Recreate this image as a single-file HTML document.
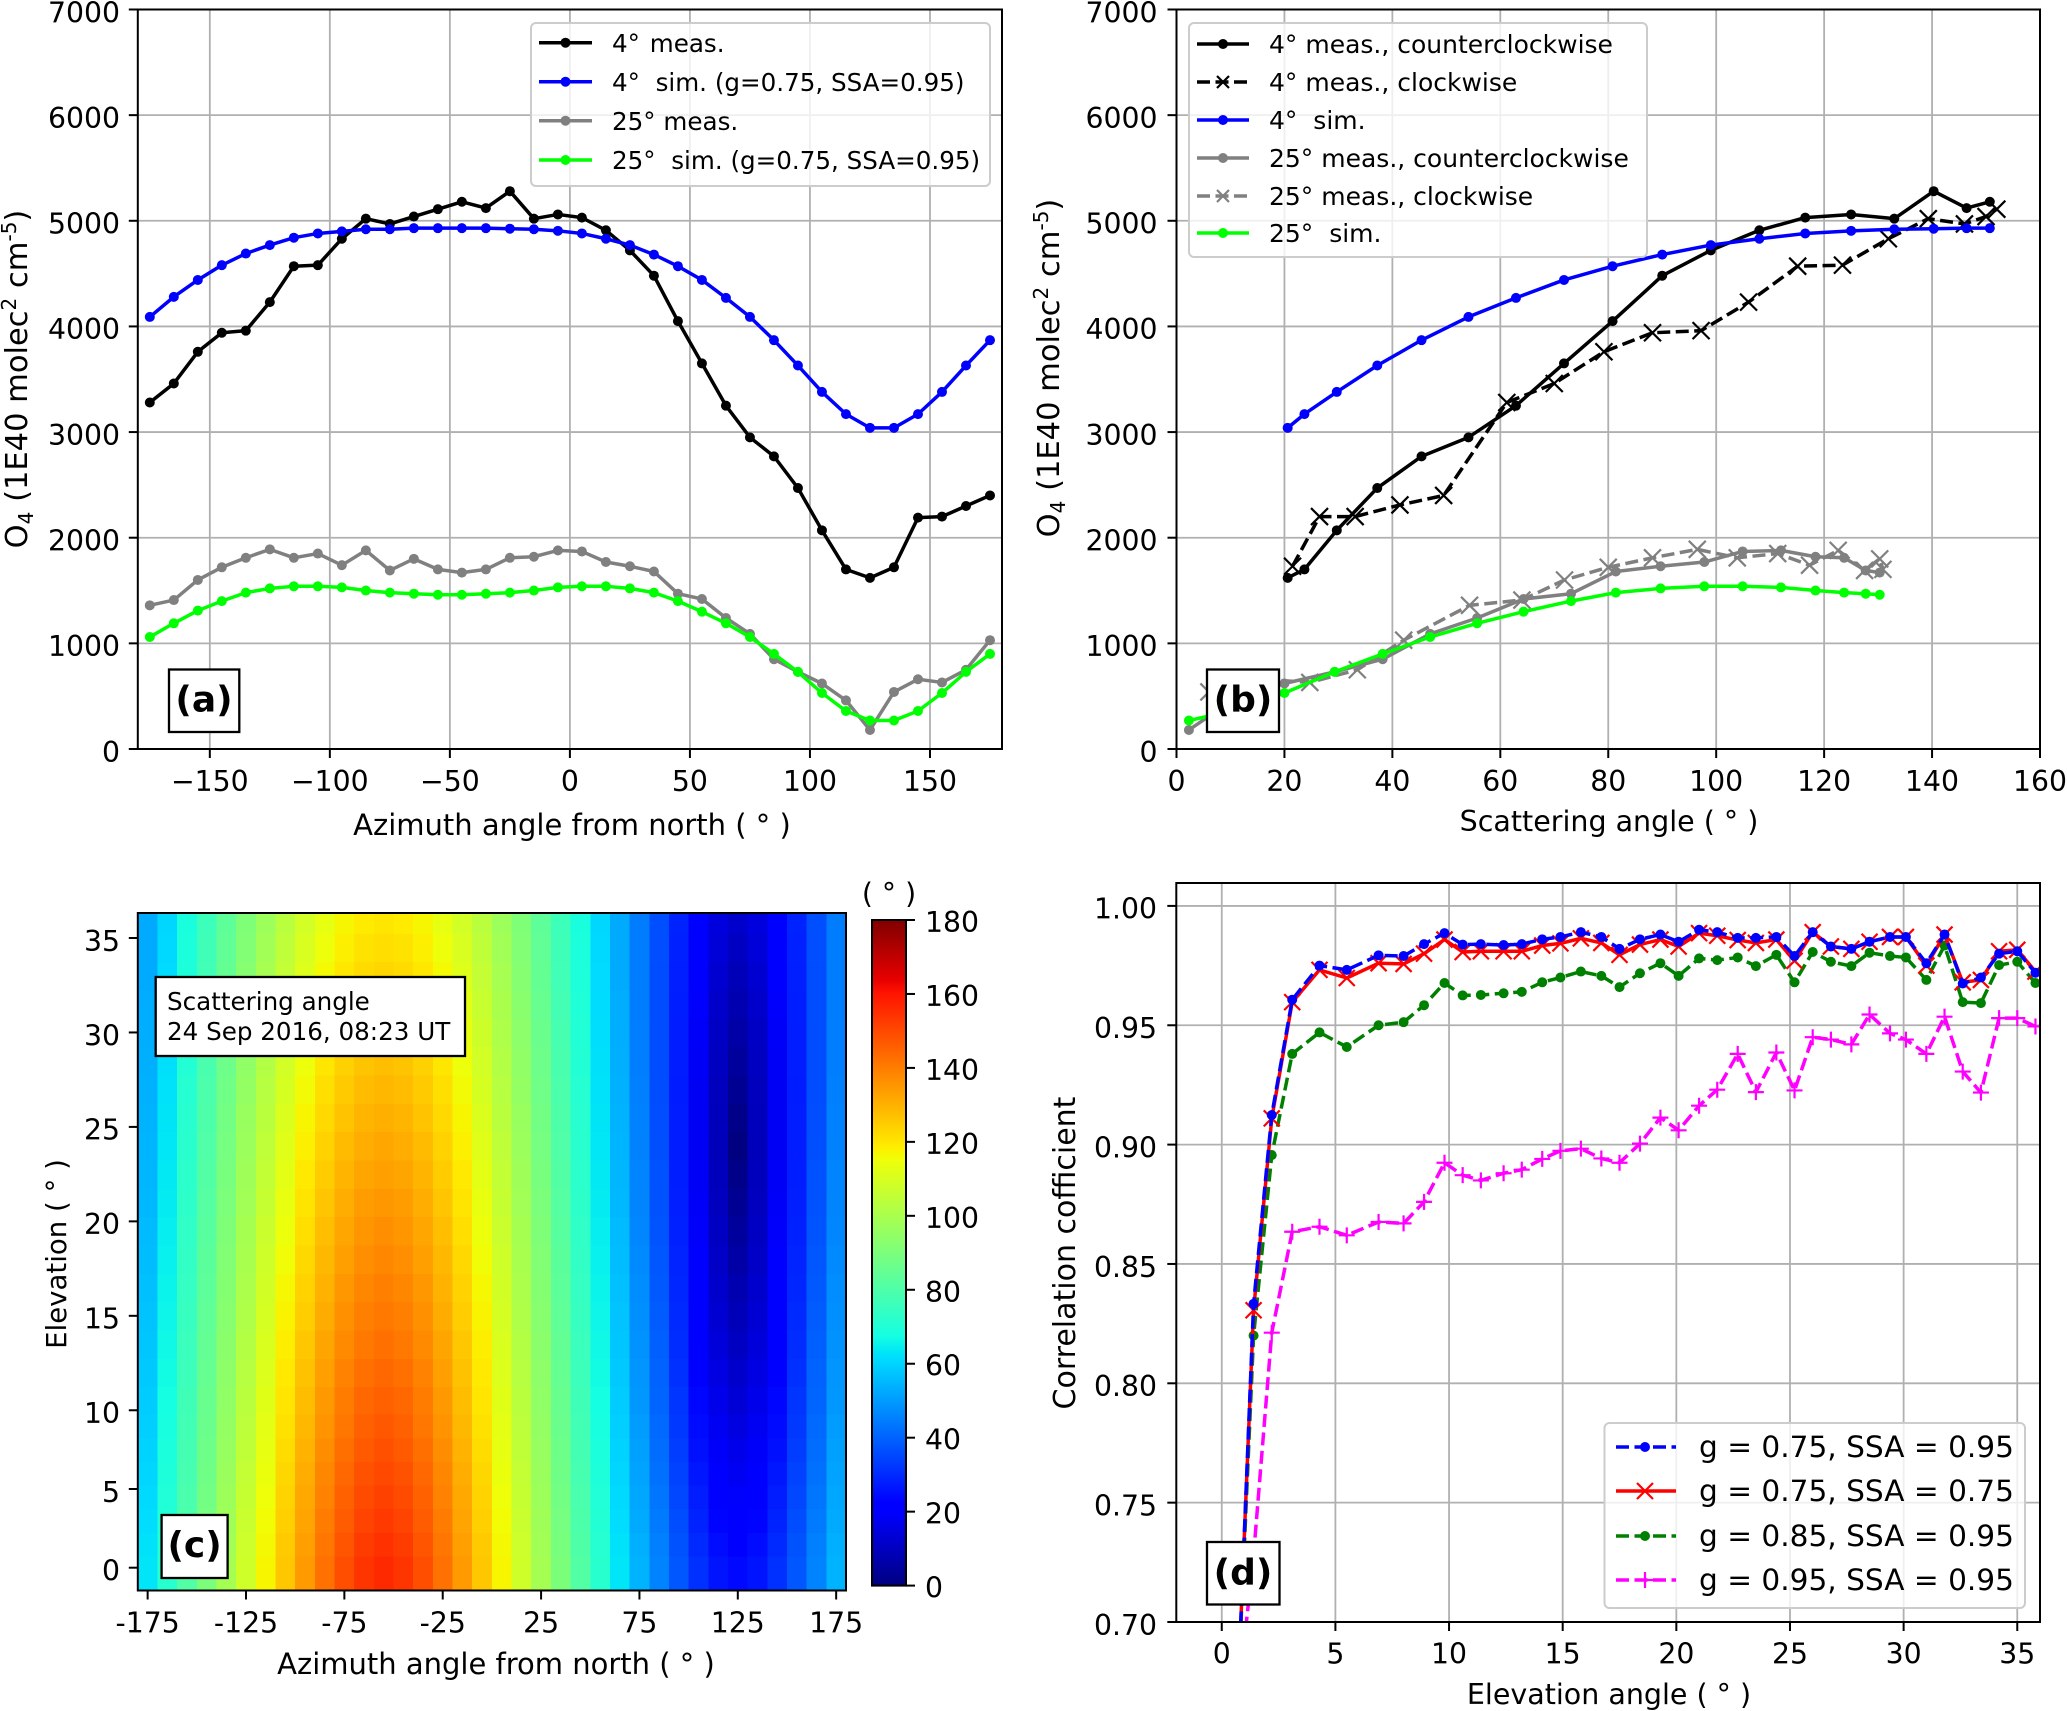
<!DOCTYPE html>
<html lang="en">
<head>
<meta charset="utf-8">
<title>O4 measurements and simulations</title>
<style>
html,body{margin:0;padding:0;background:#fff;overflow:hidden;}
svg{display:block;}
text{font-family:"DejaVu Sans","Liberation Sans",sans-serif;fill:#000;white-space:pre;}
.tick{font-size:28.3px;}
.axis{font-size:28.5px;}
.leg{font-size:24.6px;}
.legb{font-size:25px;}
.legd{font-size:29.6px;}
.panel{font-size:36px;font-weight:bold;}
.legbox{fill:#fff;fill-opacity:.8;stroke:#ccc;stroke-width:2;}
.lab{fill:#fff;stroke:#000;stroke-width:2.3;}
</style>
</head>
<body>
<svg id="fig" xmlns="http://www.w3.org/2000/svg" width="2067" height="1711" viewBox="0 0 2067 1711">
<defs>
<clipPath id="clip-a"><rect x="137.8" y="9.5" width="864.2" height="739.5"/></clipPath>
<clipPath id="clip-b"><rect x="1176.5" y="9.5" width="863.5" height="739.5"/></clipPath>
<clipPath id="clip-c"><rect x="137.8" y="913" width="708.2" height="677.5"/></clipPath>
<clipPath id="clip-d"><rect x="1176.3" y="883" width="863.7" height="739"/></clipPath>
<linearGradient id="jet-gradient" x1="0" y1="1" x2="0" y2="0"></linearGradient>
</defs>
<g id="panel-a"></g>
<g id="panel-b"></g>
<g id="panel-c"></g>
<g id="panel-d"></g>

<!-- Panel a static -->
<text class="axis" font-size="29" style="font-size:29px" x="572" y="835" text-anchor="middle">Azimuth angle from north ( ° )</text>
<text class="axis" style="font-size:30.5px" transform="translate(27,379) rotate(-90)" text-anchor="middle">O<tspan dy="6" font-size="20">4</tspan><tspan dy="-6"> (1E40 molec</tspan><tspan dy="-11" font-size="20">2</tspan><tspan dy="11"> cm</tspan><tspan dy="-11" font-size="20">-5</tspan><tspan dy="11">)</tspan></text>
<g>
<rect class="legbox" x="531" y="23" width="459" height="163" rx="5"/>
<g><line x1="539" x2="592" y1="42.7" y2="42.7" stroke="#000" stroke-width="3.5"/><circle cx="565.5" cy="42.7" r="5" fill="#000"/><text class="leg" x="612" y="52">4° <tspan dx="2">meas.</tspan></text></g>
<g><line x1="539" x2="592" y1="81.7" y2="81.7" stroke="#0000ff" stroke-width="3.5"/><circle cx="565.5" cy="81.7" r="5" fill="#0000ff"/><text class="leg" x="612" y="91">4°  sim. (g=0.75, SSA=0.95)</text></g>
<g><line x1="539" x2="592" y1="120.7" y2="120.7" stroke="#808080" stroke-width="3.5"/><circle cx="565.5" cy="120.7" r="5" fill="#808080"/><text class="leg" x="612" y="130">25° meas.</text></g>
<g><line x1="539" x2="592" y1="160" y2="160" stroke="#00ff00" stroke-width="3.5"/><circle cx="565.5" cy="160" r="5" fill="#00ff00"/><text class="leg" x="612" y="169">25°  sim. (g=0.75, SSA=0.95)</text></g>
</g>
<g><rect class="lab" x="169" y="669.5" width="70.3" height="62.5"/><text class="panel" x="204" y="711.5" text-anchor="middle">(a)</text></g>

<!-- Panel b static -->
<text class="axis" x="1609" y="831" text-anchor="middle">Scattering angle ( ° )</text>
<text class="axis" style="font-size:30.5px" transform="translate(1059,368) rotate(-90)" text-anchor="middle">O<tspan dy="6" font-size="20">4</tspan><tspan dy="-6"> (1E40 molec</tspan><tspan dy="-11" font-size="20">2</tspan><tspan dy="11"> cm</tspan><tspan dy="-11" font-size="20">-5</tspan><tspan dy="11">)</tspan></text>
<g>
<rect class="legbox" x="1189" y="23" width="458" height="234" rx="5"/>
<g><line x1="1197" x2="1249" y1="44" y2="44" stroke="#000" stroke-width="3.5"/><circle cx="1223" cy="44" r="5" fill="#000"/><text class="legb" x="1269" y="53">4° meas., counterclockwise</text></g>
<g><line x1="1197" x2="1249" y1="82" y2="82" stroke="#000" stroke-width="3.5" stroke-dasharray="13 5.5"/><path d="M1217 76L1229 88M1217 88L1229 76" stroke="#000" stroke-width="2.2" fill="none"/><text class="legb" x="1269" y="91">4° meas., clockwise</text></g>
<g><line x1="1197" x2="1249" y1="120" y2="120" stroke="#0000ff" stroke-width="3.5"/><circle cx="1223" cy="120" r="5" fill="#0000ff"/><text class="legb" x="1269" y="129">4°  sim.</text></g>
<g><line x1="1197" x2="1249" y1="158" y2="158" stroke="#808080" stroke-width="3.5"/><circle cx="1223" cy="158" r="5" fill="#808080"/><text class="legb" x="1269" y="167">25° meas., counterclockwise</text></g>
<g><line x1="1197" x2="1249" y1="196" y2="196" stroke="#808080" stroke-width="3.5" stroke-dasharray="13 5.5"/><path d="M1217 190L1229 202M1217 202L1229 190" stroke="#808080" stroke-width="2.2" fill="none"/><text class="legb" x="1269" y="205">25° meas., clockwise</text></g>
<g><line x1="1197" x2="1249" y1="233" y2="233" stroke="#00ff00" stroke-width="3.5"/><circle cx="1223" cy="233" r="5" fill="#00ff00"/><text class="legb" x="1269" y="242">25°  sim.</text></g>
</g>
<g><rect class="lab" x="1207" y="669.5" width="72" height="62.5"/><text class="panel" x="1243" y="711.5" text-anchor="middle">(b)</text></g>

<!-- Panel c static -->
<text class="axis" style="font-size:29px" x="496" y="1674" text-anchor="middle">Azimuth angle from north ( ° )</text>
<text class="axis" style="font-size:27.6px" transform="translate(66,1254) rotate(-90)" text-anchor="middle">Elevation ( ° )</text>
<text class="tick" x="889" y="903" text-anchor="middle">( ° )</text>
<g><rect class="lab" x="155.7" y="977" width="309.3" height="79"/><text class="leg" x="167" y="1010">Scattering angle</text><text class="leg" x="167" y="1040">24 Sep 2016, 08:23 UT</text></g>
<g><rect class="lab" x="161.6" y="1515" width="66" height="63"/><text class="panel" x="194.6" y="1557" text-anchor="middle">(c)</text></g>

<!-- Panel d static -->
<text class="axis" x="1609" y="1704" text-anchor="middle">Elevation angle ( ° )</text>
<text class="axis" style="font-size:30px" transform="translate(1075,1253) rotate(-90)" text-anchor="middle">Correlation cofficient</text>
<g>
<rect class="legbox" x="1604.5" y="1423" width="420.5" height="185" rx="5"/>
<g><line x1="1616" x2="1676" y1="1447" y2="1447" stroke="#0000ff" stroke-width="3.5" stroke-dasharray="13 5.5"/><circle cx="1645" cy="1447" r="5" fill="#0000ff"/><text class="legd" x="1699" y="1457">g = 0.75, SSA = 0.95</text></g>
<g><line x1="1616" x2="1676" y1="1491" y2="1491" stroke="#ff0000" stroke-width="3.5"/><path d="M1637 1483L1653 1499M1637 1499L1653 1483" stroke="#ff0000" stroke-width="2.2" fill="none"/><text class="legd" x="1699" y="1501">g = 0.75, SSA = 0.75</text></g>
<g><line x1="1616" x2="1676" y1="1536" y2="1536" stroke="#008000" stroke-width="3.5" stroke-dasharray="13 5.5"/><circle cx="1645" cy="1536" r="5" fill="#008000"/><text class="legd" x="1699" y="1546">g = 0.85, SSA = 0.95</text></g>
<g><line x1="1616" x2="1676" y1="1580" y2="1580" stroke="#ff00ff" stroke-width="3.5" stroke-dasharray="13 5.5"/><path d="M1645 1572V1588M1637 1580H1653" stroke="#ff00ff" stroke-width="2.2" fill="none"/><text class="legd" x="1699" y="1590">g = 0.95, SSA = 0.95</text></g>
</g>
<g><rect class="lab" x="1207" y="1542" width="72.5" height="62.5"/><text class="panel" x="1243" y="1584.5" text-anchor="middle">(d)</text></g>
</svg>

<script>
// ---------- Panel a data ----------
const azimuthAngles = [-175,-165,-155,-145,-135,-125,-115,-105,-95,-85,-75,-65,-55,-45,-35,-25,-15,-5,5,15,25,35,45,55,65,75,85,95,105,115,125,135,145,155,165,175];
const meas4Azimuth = [3280,3460,3760,3940,3960,4230,4570,4580,4830,5020,4970,5040,5110,5180,5120,5280,5020,5060,5030,4910,4720,4480,4050,3650,3250,2950,2770,2470,2070,1700,1620,1720,2190,2200,2300,2400];
const sim4Azimuth = [4090,4280,4440,4580,4690,4770,4840,4880,4900,4920,4920,4930,4930,4930,4930,4925,4920,4905,4880,4830,4770,4680,4570,4440,4270,4090,3870,3630,3380,3170,3040,3040,3170,3380,3630,3870];
const meas25Azimuth = [1360,1410,1600,1720,1810,1890,1810,1850,1740,1880,1690,1800,1700,1670,1700,1810,1820,1880,1870,1770,1730,1680,1470,1420,1240,1090,850,730,620,460,180,540,660,630,750,1030];
const sim25Azimuth = [1060,1190,1310,1400,1480,1520,1540,1540,1530,1500,1480,1470,1460,1460,1470,1480,1500,1530,1540,1540,1520,1480,1400,1300,1190,1060,900,730,530,360,270,270,360,530,730,900];
const panelAXTicks = [-150,-100,-50,0,50,100,150];
const panelAXTickLabels = ['\u2212150','\u2212100','\u221250','0','50','100','150'];
const o4YTicks = [0,1000,2000,3000,4000,5000,6000,7000];

// ---------- Panel b data ----------
const scatter4Ccw = [20.6,23.7,29.7,37.2,45.4,54.1,62.9,71.8,80.8,90,99,108,116.5,125,133,140.3,146.4,150.7];
const meas4Ccw = [1620,1700,2070,2470,2770,2950,3250,3650,4050,4480,4720,4910,5030,5060,5020,5280,5120,5180];
const scatter4Cw = [21.5,26.5,33.1,41.4,49.5,61.2,70,79.2,88.2,97.2,106,115.1,123.4,131.9,139.3,146,150,152];
const meas4Cw = [1730,2200,2200,2310,2400,3280,3460,3760,3940,3960,4230,4570,4580,4830,5020,4970,5040,5110];
const sim4Scatter = [3040,3170,3380,3630,3870,4090,4270,4440,4570,4680,4770,4830,4880,4905,4920,4925,4930,4930];
const scatter25Ccw = [2.3,10.3,20,29.3,38.2,47,55.7,64.3,73.1,81.4,89.7,97.8,104.9,112,118.4,123.7,127.7,130.3];
const meas25Ccw = [180,460,620,730,850,1090,1240,1420,1470,1680,1730,1770,1870,1880,1820,1810,1690,1670];
const scatter25Cw = [6,15.7,24.7,33.5,42.1,54.3,64,71.9,80,88.2,96.5,103.9,111.4,117.3,122.6,127.5,130.3,130.9];
const meas25Cw = [540,660,630,750,1030,1360,1410,1600,1720,1810,1890,1810,1850,1740,1880,1690,1800,1700];
const sim25Scatter = [270,360,530,730,900,1060,1190,1300,1400,1480,1520,1540,1540,1530,1500,1480,1470,1460];
const panelBXTicks = [0,20,40,60,80,100,120,140,160];

// ---------- Panel c data ----------
const heatAzimuths = [-175,-165,-155,-145,-135,-125,-115,-105,-95,-85,-75,-65,-55,-45,-35,-25,-15,-5,5,15,25,35,45,55,65,75,85,95,105,115,125,135,145,155,165,175];
// Azimuth offset of each column from the darkest column (az 125); indexes the value rows below in 10 degree steps.
const heatSunOffsets = [60,70,80,90,100,110,120,130,140,150,160,170,180,170,160,150,140,130,120,110,100,90,80,70,60,50,40,30,20,10,0,10,20,30,40,50];
const heatElevations = [0,1.5,3,4.5,6,7.5,9,10.5,12,13.5,15,16.5,18,19.5,21,22.5,24,25.5,27,28.5,30,31.5,33,34.5,36];
// Scattering angle at offsets 0,10,...,180 for each elevation.
const heatRow00 = [24.0,25.9,30.9,37.9,45.7,54.1,62.9,71.8,80.9,90.0,99.1,108.2,117.2,125.9,134.3,142.2,148.9,153.7,156];
const heatRow01 = [22.5,24.5,29.7,37.0,44.9,53.4,62.2,71.2,80.3,89.4,98.5,107.6,116.5,125.2,133.5,141.2,147.7,152.4,154.5];
const heatRow03 = [21,23.1,28.5,36.0,44.0,52.6,61.5,70.6,79.7,88.8,97.9,106.9,115.8,124.4,132.6,140.1,146.5,151.0,153];
const heatRow04 = [19.5,21.8,27.4,35.0,43.3,52.0,60.9,70.0,79.1,88.2,97.3,106.3,115.1,123.6,131.7,139.1,145.3,149.6,151.5];
const heatRow06 = [18,20.4,26.3,34.1,42.5,51.3,60.2,69.3,78.5,87.6,96.6,105.6,114.3,122.8,130.8,138.0,144.0,148.1,150];
const heatRow07 = [16.5,19.1,25.3,33.2,41.8,50.7,59.7,68.8,77.9,87.0,96.0,104.9,113.6,121.9,129.8,136.9,142.7,146.7,148.5];
const heatRow09 = [15,17.8,24.3,32.4,41.0,50.0,59.1,68.2,77.3,86.3,95.3,104.2,112.8,121.0,128.8,135.7,141.4,145.3,147];
const heatRow10 = [13.5,16.6,23.4,31.7,40.4,49.4,58.5,67.6,76.7,85.7,94.7,103.5,112.0,120.2,127.8,134.6,140.1,143.9,145.5];
const heatRow12 = [12,15.3,22.4,30.9,39.8,48.8,57.9,67.0,76.1,85.1,94.1,102.8,111.2,119.3,126.8,133.4,138.8,142.4,144];
const heatRow13 = [10.5,14.2,21.7,30.3,39.3,48.3,57.4,66.5,75.6,84.6,93.5,102.1,110.4,118.4,125.8,132.3,137.5,141.0,142.5];
const heatRow15 = [9,13.0,20.9,29.7,38.7,47.8,56.9,66.0,75.0,84.0,92.8,101.3,109.6,117.5,124.8,131.1,136.1,139.5,141];
const heatRow16 = [7.5,12.1,20.3,29.2,38.2,47.3,56.4,65.5,74.5,83.4,92.1,100.6,108.8,116.6,123.7,129.9,134.8,138.1,139.5];
const heatRow18 = [6,11.1,19.6,28.6,37.7,46.8,55.9,65.0,74.0,82.8,91.4,99.9,108.0,115.6,122.6,128.7,133.5,136.6,138];
const heatRow19 = [4.5,10.4,19.2,28.2,37.4,46.4,55.5,64.5,73.5,82.2,90.8,99.2,107.2,114.7,121.5,127.5,132.2,135.2,136.5];
const heatRow21 = [3,9.7,18.7,27.8,37.0,46.0,55.0,64.0,72.9,81.6,90.1,98.4,106.3,113.7,120.4,126.2,130.9,133.8,135];
const heatRow22 = [1.5,9.4,18.5,27.6,36.8,45.8,54.7,63.6,72.4,81.1,89.5,97.7,105.5,112.7,119.3,125.0,129.5,132.4,133.5];
const heatRow24 = [0,9.2,18.3,27.4,36.5,45.5,54.4,63.2,71.9,80.5,88.8,96.9,104.6,111.7,118.2,123.7,128.1,130.9,132];
const heatRow25 = [1.5,9.4,18.3,27.4,36.3,45.2,54.1,62.8,71.5,80.0,88.2,96.2,103.7,110.7,117.1,122.5,126.7,129.4,130.5];
const heatRow27 = [3,9.6,18.3,27.3,36.1,44.9,53.7,62.4,71.0,79.4,87.5,95.4,102.8,109.7,116.0,121.3,125.3,127.9,129];
const heatRow28 = [4.5,10.2,18.6,27.4,36.1,44.8,53.5,62.1,70.6,78.9,86.9,94.7,102.0,108.7,114.9,120.0,124.0,126.5,127.5];
const heatRow30 = [6,10.7,18.8,27.4,36.1,44.7,53.2,61.7,70.1,78.3,86.2,93.9,101.1,107.7,113.7,118.7,122.6,125.0,126];
const heatRow31 = [7.5,11.6,19.3,27.6,36.1,44.6,53.0,61.4,69.7,77.8,85.6,93.1,100.2,106.7,112.6,117.4,121.2,123.5,124.5];
const heatRow33 = [9,12.6,19.7,27.8,36.1,44.4,52.7,61.1,69.2,77.2,84.9,92.3,99.3,105.7,111.4,116.1,119.7,122.0,123];
const heatRow34 = [10.5,13.7,20.4,28.2,36.3,44.5,52.6,60.8,68.9,76.7,84.3,91.5,98.4,104.6,110.2,114.8,118.3,120.6,121.5];
const heatRow36 = [12,14.8,21.0,28.5,36.4,44.5,52.5,60.5,68.5,76.2,83.6,90.7,97.4,103.5,109.0,113.5,116.9,119.1,120];
const heatValues = [heatRow00,heatRow01,heatRow03,heatRow04,heatRow06,heatRow07,heatRow09,heatRow10,heatRow12,heatRow13,heatRow15,heatRow16,heatRow18,heatRow19,heatRow21,heatRow22,heatRow24,heatRow25,heatRow27,heatRow28,heatRow30,heatRow31,heatRow33,heatRow34,heatRow36];
const panelCXTicks = [-175,-125,-75,-25,25,75,125,175];
const panelCYTicks = [0,5,10,15,20,25,30,35];
const colorbarTicks = [0,20,40,60,80,100,120,140,160,180];

// ---------- Panel d data ----------
const elevationAngles = [0.7,1.4,2.2,3.1,4.3,5.5,6.9,8.0,8.9,9.8,10.6,11.4,12.4,13.2,14.1,14.9,15.8,16.7,17.5,18.4,19.3,20.1,21.0,21.8,22.7,23.5,24.4,25.2,26.0,26.8,27.7,28.5,29.4,30.1,31.0,31.8,32.6,33.4,34.2,35.0,35.8];
const corrG75S95 = [0.668,0.8333,0.9124,0.9607,0.975,0.9732,0.9793,0.979,0.984,0.9886,0.9838,0.984,0.9836,0.984,0.986,0.987,0.989,0.987,0.982,0.986,0.988,0.985,0.990,0.989,0.9866,0.9866,0.987,0.979,0.989,0.983,0.982,0.985,0.987,0.987,0.976,0.988,0.9675,0.970,0.980,0.981,0.972];
const corrG75S75 = [0.668,0.8306,0.911,0.9597,0.9732,0.9698,0.976,0.9757,0.98,0.9859,0.9807,0.981,0.981,0.981,0.9834,0.9843,0.9864,0.9845,0.9795,0.9838,0.9859,0.983,0.9886,0.9875,0.9857,0.9845,0.9859,0.977,0.989,0.983,0.982,0.985,0.987,0.987,0.975,0.988,0.968,0.969,0.981,0.9816,0.9725];
const corrG85S95 = [0.668,0.820,0.8956,0.938,0.947,0.9409,0.950,0.9513,0.9584,0.9677,0.9625,0.9627,0.9634,0.964,0.968,0.970,0.9725,0.9707,0.966,0.9718,0.976,0.9707,0.978,0.9773,0.9784,0.9748,0.9795,0.968,0.9807,0.9766,0.9748,0.9804,0.979,0.9784,0.969,0.9834,0.9597,0.9593,0.9752,0.9766,0.9677];
const corrG95S95 = [0.666,0.728,0.8212,0.8635,0.8656,0.862,0.8676,0.867,0.876,0.8924,0.8872,0.885,0.888,0.8895,0.894,0.8974,0.8983,0.8942,0.8924,0.9004,0.9113,0.906,0.9163,0.923,0.938,0.922,0.9386,0.9227,0.945,0.944,0.942,0.9545,0.9466,0.944,0.938,0.9536,0.9306,0.9218,0.953,0.953,0.9495];
const panelDXTicks = [0,5,10,15,20,25,30,35];
const panelDYTicks = [0.70,0.75,0.80,0.85,0.90,0.95,1.00];
const panelDYTickLabels = ['0.70','0.75','0.80','0.85','0.90','0.95','1.00'];

// ---------- Helpers ----------
const NS = 'http://www.w3.org/2000/svg';
const fig = document.getElementById('fig');
function svgEl(tag, attrs, parent) {
  const el = document.createElementNS(NS, tag);
  for (const k in attrs) el.setAttribute(k, attrs[k]);
  if (parent) parent.appendChild(el);
  return el;
}
function scale(d0, d1, r0, r1) {
  return function (v) { return r0 + (v - d0) * (r1 - r0) / (d1 - d0); };
}
const GRID = '#b0b0b0';
function drawGrid(parent, xs, ys, sx, sy, box, prefix) {
  xs.forEach(function (t) {
    const el = svgEl('line', {x1: sx(t), x2: sx(t), y1: box.t, y2: box.b, stroke: GRID, 'stroke-width': 1.8}, parent);
    
    
  });
  ys.forEach(function (t) {
    const el = svgEl('line', {x1: box.l, x2: box.r, y1: sy(t), y2: sy(t), stroke: GRID, 'stroke-width': 1.8}, parent);
    
    
  });
}
function drawFrameAndTicks(parent, xs, xl, ys, yl, sx, sy, box, prefix, yLabelX, xLabelY) {
  const frame = svgEl('rect', {x: box.l, y: box.t, width: box.r - box.l, height: box.b - box.t, fill: 'none', stroke: '#000', 'stroke-width': 2}, parent);
  
  
  xs.forEach(function (t, i) {
    const mark = svgEl('line', {x1: sx(t), x2: sx(t), y1: box.b, y2: box.b + 9, stroke: '#000', 'stroke-width': 2}, parent);
    
    
    const lab = svgEl('text', {class: 'tick', x: sx(t), y: xLabelY, 'text-anchor': 'middle'}, parent);
    
    
    lab.textContent = xl[i];
  });
  ys.forEach(function (t, i) {
    const mark = svgEl('line', {x1: box.l - 9, x2: box.l, y1: sy(t), y2: sy(t), stroke: '#000', 'stroke-width': 2}, parent);
    
    
    const lab = svgEl('text', {class: 'tick', x: yLabelX, y: sy(t) + 12.8, 'text-anchor': 'end'}, parent);
    
    
    lab.textContent = yl[i];
  });
}
function drawSeries(parent, xVals, yVals, sx, sy, opt, seriesName) {
  const g = svgEl('g', {'clip-path': 'url(#' + opt.clip + ')'}, parent);
  
  
  const pts = xVals.map(function (x, i) { return sx(x).toFixed(2) + ',' + sy(yVals[i]).toFixed(2); }).join(' ');
  const attrs = {points: pts, fill: 'none', stroke: opt.color, 'stroke-width': 3.5, 'stroke-linejoin': 'round'};
  if (opt.dash) attrs['stroke-dasharray'] = '13 5.5';
  const line = svgEl('polyline', attrs, g);
  
  
  xVals.forEach(function (x, i) {
    const px = sx(x), py = sy(yVals[i]);
    let m;
    if (opt.marker === 'o') {
      m = svgEl('circle', {cx: px, cy: py, r: 5, fill: opt.color}, g);
    } else if (opt.marker === 'x') {
      const h = opt.ms || 8.5;
      m = svgEl('path', {d: 'M' + (px - h) + ' ' + (py - h) + 'L' + (px + h) + ' ' + (py + h) + 'M' + (px - h) + ' ' + (py + h) + 'L' + (px + h) + ' ' + (py - h), stroke: opt.color, 'stroke-width': 2.2, fill: 'none'}, g);
    } else {
      const h = opt.ms || 8;
      m = svgEl('path', {d: 'M' + (px - h) + ' ' + py + 'H' + (px + h) + 'M' + px + ' ' + (py - h) + 'V' + (py + h), stroke: opt.color, 'stroke-width': 2.2, fill: 'none'}, g);
    }
    
    
  });
}
function jetStop(v) {
  function pl(points) {
    for (let i = 1; i < points.length; i++) {
      if (v <= points[i][0]) {
        const a = points[i - 1], b = points[i];
        return a[1] + (b[1] - a[1]) * (v - a[0]) / (b[0] - a[0]);
      }
    }
    return points[points.length - 1][1];
  }
  const r = pl([[0, 0], [0.35, 0], [0.66, 1], [0.89, 1], [1, 0.5]]);
  const g = pl([[0, 0], [0.125, 0], [0.375, 1], [0.64, 1], [0.91, 0], [1, 0]]);
  const b = pl([[0, 0.5], [0.11, 1], [0.34, 1], [0.65, 0], [1, 0]]);
  return 'rgb(' + Math.round(r * 255) + ',' + Math.round(g * 255) + ',' + Math.round(b * 255) + ')';
}

// ---------- Panel a ----------
(function () {
  const p = document.getElementById('panel-a');
  const box = {l: 137.8, r: 1002, t: 9.5, b: 749};
  const sx = scale(-180, 180, box.l, box.r), sy = scale(0, 7000, box.b, box.t);
  drawGrid(p, panelAXTicks, o4YTicks, sx, sy, box, 'panel-a');
  drawSeries(p, azimuthAngles, meas4Azimuth, sx, sy, {color: '#000000', marker: 'o', clip: 'clip-a'}, 'series-4deg-meas');
  drawSeries(p, azimuthAngles, sim4Azimuth, sx, sy, {color: '#0000ff', marker: 'o', clip: 'clip-a'}, 'series-4deg-sim');
  drawSeries(p, azimuthAngles, meas25Azimuth, sx, sy, {color: '#808080', marker: 'o', clip: 'clip-a'}, 'series-25deg-meas');
  drawSeries(p, azimuthAngles, sim25Azimuth, sx, sy, {color: '#00ff00', marker: 'o', clip: 'clip-a'}, 'series-25deg-sim');
  drawFrameAndTicks(p, panelAXTicks, panelAXTickLabels, o4YTicks, o4YTicks, sx, sy, box, 'panel-a', 120, 790.8);
})();

// ---------- Panel b ----------
(function () {
  const p = document.getElementById('panel-b');
  const box = {l: 1176.5, r: 2040, t: 9.5, b: 749};
  const sx = scale(0, 160, box.l, box.r), sy = scale(0, 7000, box.b, box.t);
  drawGrid(p, panelBXTicks, o4YTicks, sx, sy, box, 'panel-b');
  drawSeries(p, scatter4Ccw, meas4Ccw, sx, sy, {color: '#000000', marker: 'o', clip: 'clip-b'}, 'series-4deg-meas-ccw');
  drawSeries(p, scatter4Cw, meas4Cw, sx, sy, {color: '#000000', marker: 'x', dash: true, clip: 'clip-b'}, 'series-4deg-meas-cw');
  drawSeries(p, scatter4Ccw, sim4Scatter, sx, sy, {color: '#0000ff', marker: 'o', clip: 'clip-b'}, 'series-4deg-sim');
  drawSeries(p, scatter25Ccw, meas25Ccw, sx, sy, {color: '#808080', marker: 'o', clip: 'clip-b'}, 'series-25deg-meas-ccw');
  drawSeries(p, scatter25Cw, meas25Cw, sx, sy, {color: '#808080', marker: 'x', dash: true, clip: 'clip-b'}, 'series-25deg-meas-cw');
  drawSeries(p, scatter25Ccw, sim25Scatter, sx, sy, {color: '#00ff00', marker: 'o', clip: 'clip-b'}, 'series-25deg-sim');
  drawFrameAndTicks(p, panelBXTicks, panelBXTicks, o4YTicks, o4YTicks, sx, sy, box, 'panel-b', 1157.5, 790.8);
})();

// ---------- Panel c ----------
(function () {
  const p = document.getElementById('panel-c');
  const box = {l: 137.8, r: 846, t: 913, b: 1590.5};
  const sx = scale(-180, 180, box.l, box.r);
  // The elevation axis is row-indexed: one row per degree up to 10, then 1.2 rows per degree.
  const rowScale = scale(0, 40, 1567.7, 938);
  const sy = function (e) { return rowScale(e <= 10 ? e : 10 + (e - 10) * 1.2); };
  const heat = svgEl('g', {'clip-path': 'url(#clip-c)', 'shape-rendering': 'crispEdges'}, p);
  
  
  heatElevations.forEach(function (e, r) {
    heatAzimuths.forEach(function (a, c) {
      const x0 = sx(a - 5), x1 = sx(a + 5);
      const y0 = sy(r === heatElevations.length - 1 ? e + 1 : e + 0.75);
      const y1 = sy(r === 0 ? -2 : e - 0.75);
      const value = heatValues[r][heatSunOffsets[c] / 10];
      const cell = svgEl('rect', {x: x0, y: y0, width: x1 - x0 + 0.5, height: y1 - y0 + 0.5, fill: jetStop(value / 180)}, heat);
      
      
    });
  });
  drawFrameAndTicks(p, panelCXTicks, panelCXTicks.map(String), panelCYTicks, panelCYTicks, sx, sy, box, 'panel-c', 120, 1632.5);

  // Colorbar
  const grad = document.getElementById('jet-gradient');
  [0, 0.11, 0.125, 0.34, 0.35, 0.375, 0.64, 0.65, 0.66, 0.89, 0.91, 1].forEach(function (o) {
    svgEl('stop', {offset: o, 'stop-color': jetStop(o)}, grad);
  });
  const cb = {l: 872, r: 906, t: 920, b: 1585.6};
  const cy = scale(0, 180, cb.b, cb.t);
  const bar = svgEl('rect', {x: cb.l, y: cb.t, width: cb.r - cb.l, height: cb.b - cb.t, fill: 'url(#jet-gradient)', stroke: '#000', 'stroke-width': 2}, p);
  
  
  colorbarTicks.forEach(function (t) {
    const mark = svgEl('line', {x1: cb.r, x2: cb.r + 9, y1: cy(t), y2: cy(t), stroke: '#000', 'stroke-width': 2}, p);
    
    
    const lab = svgEl('text', {class: 'tick', x: 925, y: cy(t) + 12}, p);
    
    
    lab.textContent = t;
  });
})();

// ---------- Panel d ----------
(function () {
  const p = document.getElementById('panel-d');
  const box = {l: 1176.3, r: 2040, t: 883, b: 1622};
  const sx = scale(-2, 36, box.l, box.r), sy = scale(0.70, 1.0096, box.b, box.t);
  drawGrid(p, panelDXTicks, panelDYTicks, sx, sy, box, 'panel-d');
  drawSeries(p, elevationAngles, corrG95S95, sx, sy, {color: '#ff00ff', marker: '+', dash: true, clip: 'clip-d'}, 'series-g095-ssa095');
  drawSeries(p, elevationAngles, corrG85S95, sx, sy, {color: '#008000', marker: 'o', dash: true, clip: 'clip-d'}, 'series-g085-ssa095');
  drawSeries(p, elevationAngles, corrG75S75, sx, sy, {color: '#ff0000', marker: 'x', ms: 8, clip: 'clip-d'}, 'series-g075-ssa075');
  drawSeries(p, elevationAngles, corrG75S95, sx, sy, {color: '#0000ff', marker: 'o', dash: true, clip: 'clip-d'}, 'series-g075-ssa095');
  drawFrameAndTicks(p, panelDXTicks, panelDXTicks, panelDYTicks, panelDYTickLabels, sx, sy, box, 'panel-d', 1157, 1663.5);
})();
</script>
</body>
</html>
